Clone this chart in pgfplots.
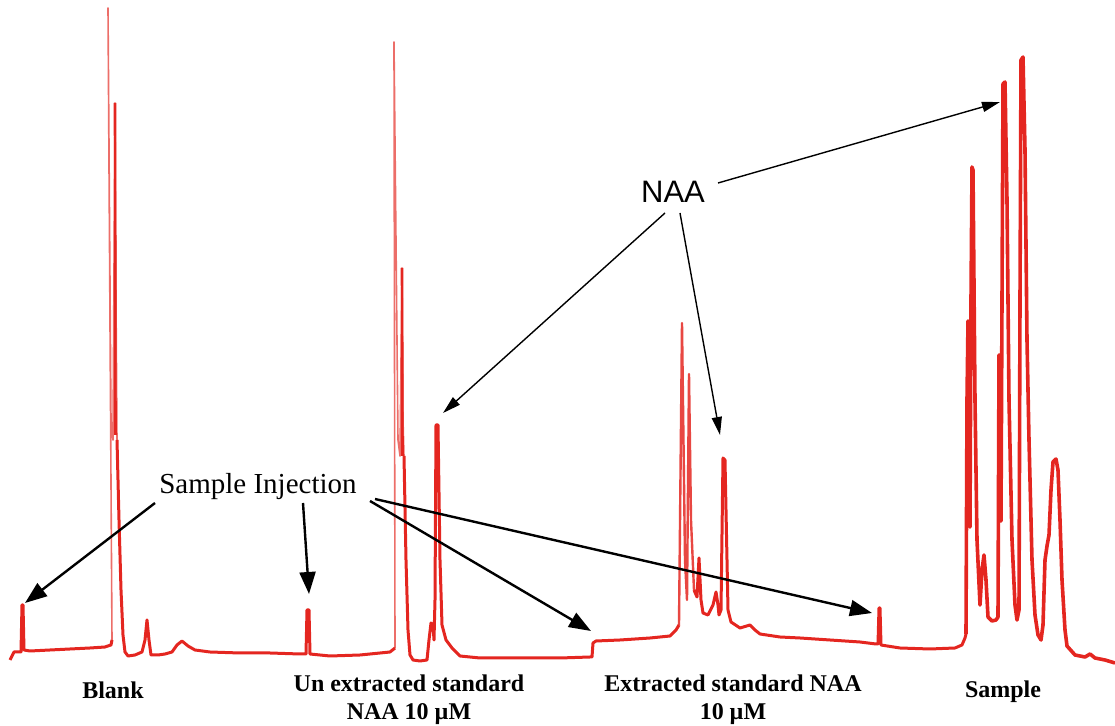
\documentclass[border=0pt]{standalone}
\usepackage{fontspec}
\setmainfont{Liberation Serif}
\newfontfamily\arialfont{Liberation Sans}
\usepackage{pgfplots}
\pgfplotsset{compat=1.18}
\usetikzlibrary{arrows.meta}
\definecolor{trace}{RGB}{228,38,32}
\definecolor{tracelight}{RGB}{236,110,105}
\begin{document}
\begin{tikzpicture}
\begin{axis}[
  width=557.5pt, height=363pt, scale only axis,
  xmin=0, xmax=1115, ymin=0, ymax=726, y dir=reverse,
  hide axis, clip=false,
]
% ---- fast (thin, light) strokes of the tall peaks
\addplot[tracelight, line width=0.8pt, line join=round] coordinates {
(112,640)(108,8)(111,420)(113,440)(115,103)(116,300)(117,440)};
\addplot[trace, line width=1.3pt] coordinates {(115,103)(115.5,435)};
\addplot[tracelight, line width=0.8pt, line join=round] coordinates {
(395,648)(394,42)(398,440)(400,456)(402,268)(403,420)(404,456)};
\addplot[trace, line width=1.3pt] coordinates {(402,268)(402.5,456)};
\addplot[trace!85!white, line width=1.2pt, line join=round] coordinates {
(679,625)(682,323)(685,560)(687,600)(689,374)(691,520)(694,590)};
% ---- slow (thick) parts of the recorder trace
\addplot[trace, line width=1.5pt, line join=round] coordinates {
(10,660)(14,652)(20,652)(21,652)(22,605)(23,605)(24,650)(30,651)(50,650)(70,649)(90,648)(105,647)(111,645)(112,640)};
\addplot[trace, line width=1.5pt, line join=round] coordinates {
(117,440)(119,520)(121,590)(123,635)(125,652)(128,656)(135,655)(142,652)(145,640)(147,620)(149,640)(151,655)(158,655)(165,654)(172,652)(177,645)(182,641)(188,646)(195,650)(210,652)(240,653)(270,653)(300,654)(306,654)(307,610)(309,610)(310,654)(330,656)(360,655)(390,652)(395,648)};
\addplot[trace, line width=1.5pt, line join=round] coordinates {
(404,456)(406,560)(408,630)(410,655)(413,660)(420,661)(427,660)(429,640)(431,623)(433,625)(434,640)(435,600)(436,425)(438,425)(440,560)(442,625)(446,640)(452,648)(460,656)(480,658)(520,658)(560,658)(590,657)(592,657)(593,643)(596,641)(620,640)(650,638)(670,636)(676,630)(679,625)};
\addplot[trace, line width=1.5pt, line join=round] coordinates {
(694,590)(697,597)(699,558)(701,600)(703,613)(708,615)(713,605)(716,592)(718,605)(719,615)(721,610)(723,458)(725,460)(728,610)(731,622)(740,628)(750,625)(755,630)(760,634)(780,637)(800,638)(830,640)(860,642)(876,644)(878,644)(879,608)(880,608)(881,645)(900,648)(930,649)(955,648)(962,645)(965,638)(966,634)};
\addplot[trace, line width=1.8pt, line join=round] coordinates {
(966,634)(967,400)(968,321)(969,480)(970,527)(971,300)(972,167)(973,170)(975,400)(977,540)(980,605)(982,570)(984,555)(986,580)(988,617)(992,621)(996,620)(998,617)(999,355)(1000,460)(1001,521)(1002,300)(1003,84)(1005,82)(1007,200)(1009,400)(1012,540)(1015,605)(1017,620)(1019,610)(1020,300)(1021,60)(1023,57)(1025,150)(1027,340)(1029,440)(1032,560)(1035,615)(1038,635)(1041,640)(1043,625)(1045,560)(1047,546)(1049,535)(1051,490)(1053,462)(1056,459)(1058,470)(1060,520)(1062,580)(1065,630)(1067,646)(1075,655)(1085,657)(1090,654)(1095,658)(1105,660)(1115,663)};
% ---- annotations
\draw[line width=1.2pt, -{Triangle[length=11pt,width=8pt]}] (axis cs:155,503) -- (axis cs:25,603);
\draw[line width=1.2pt, -{Triangle[length=11pt,width=8pt]}] (axis cs:303,503) -- (axis cs:309,594);
\draw[line width=1.2pt, -{Triangle[length=11pt,width=8pt]}] (axis cs:370,501) -- (axis cs:591,631);
\draw[line width=1.2pt, -{Triangle[length=11pt,width=8pt]}] (axis cs:375,499) -- (axis cs:872,613);
\node[font=\fontsize{14.5}{16}\selectfont] at (axis cs:258,487) {Sample Injection};
\draw[line width=0.7pt, -{Triangle[length=9pt,width=5pt]}] (axis cs:665,213) -- (axis cs:443,413);
\draw[line width=0.7pt, -{Triangle[length=9pt,width=5pt]}] (axis cs:680,213) -- (axis cs:720,435);
\draw[line width=0.7pt, -{Triangle[length=9pt,width=5pt]}] (axis cs:718,183) -- (axis cs:1000,102);
\node[font=\arialfont\fontsize{15.5}{17}\selectfont] at (axis cs:673,192) {NAA};
\node[font=\bfseries\fontsize{12}{14}\selectfont] at (axis cs:113,690) {Blank};
\node[font=\bfseries\fontsize{12}{14}\selectfont, align=center] at (axis cs:409,700) {Un extracted standard\\NAA 10 µM};
\node[font=\bfseries\fontsize{12}{14}\selectfont, align=center] at (axis cs:733,700) {Extracted standard NAA\\10 µM};
\node[font=\bfseries\fontsize{12}{14}\selectfont] at (axis cs:1003,692) {Sample};
\end{axis}
\pgfresetboundingbox
\path (0,0) rectangle (557.5pt,363pt);
\end{tikzpicture}
\end{document}
